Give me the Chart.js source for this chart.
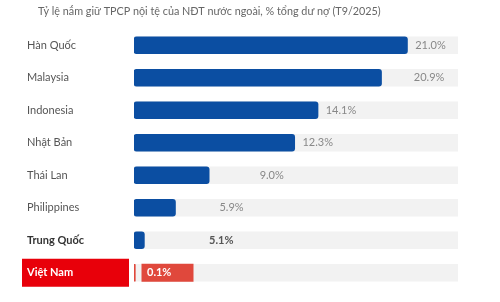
<!DOCTYPE html>
<html lang="vi">
<head>
  <meta charset="UTF-8">
  <title>Tỷ lệ nắm giữ TPCP nội tệ của NĐT nước ngoài</title>
  <script src="https://cdn.jsdelivr.net/npm/chart.js"></script>
  <style>
    body { margin: 0; background: #fff; }
    #wrap { width: 500px; height: 302px; position: relative; }
  </style>
</head>
<body>
  <div id="wrap"><canvas id="chart"></canvas></div>
  <script>
    const title = 'Tỷ lệ nắm giữ TPCP nội tệ của NĐT nước ngoài, % tổng dư nợ (T9/2025)';
    const categories = ['Hàn Quốc', 'Malaysia', 'Indonesia', 'Nhật Bản', 'Thái Lan', 'Philippines', 'Trung Quốc', 'Việt Nam'];
    // bar lengths as drawn in the picture (axis 0..25)
    const barValues = [21.1, 19.1, 14.2, 12.4, 5.8, 3.2, 0.8, 0.1];
    // printed labels, placed at their own value
    const labelValues = [21.0, 20.9, 14.1, 12.3, 9.0, 5.9, 5.1, 0.1];
    const axisMax = 25;
    const trackValues = categories.map(() => axisMax);

    const font = 'Lato, "Noto Sans", sans-serif';

    const decor = {
      id: 'decor',
      afterDatasetsDraw(chart) {
        const { ctx, scales } = chart;
        const x = scales.x, y = scales.y;
        ctx.save();
        ctx.textBaseline = 'middle';

        ctx.font = '10.8px ' + font;
        ctx.fillStyle = '#666';
        ctx.textAlign = 'left';
        ctx.fillText(title, 38, 12);

        categories.forEach((c, i) => {
          const cy = y.getPixelForValue(i);
          const last = i === categories.length - 1;
          const bold = c === 'Trung Quốc';
          if (last) {
            ctx.fillStyle = '#e8000a';
            ctx.fillRect(22, cy - 14, 107, 28);
            const lx = x.getPixelForValue(0) + 8;
            ctx.fillStyle = '#e0483c';
            ctx.fillRect(lx - 0.5, cy - 9, 52, 18);
            ctx.font = 'bold 11px ' + font;
            ctx.fillStyle = '#fff';
            ctx.fillText(c, 27, cy);
            ctx.fillText(labelValues[i].toFixed(1) + '%', lx + 5, cy);
            return;
          }
          ctx.font = (bold ? 'bold ' : '') + '11px ' + font;
          ctx.fillStyle = bold ? '#333' : '#555';
          ctx.fillText(c, 27, cy);
          ctx.fillStyle = bold ? '#555' : '#888';
          ctx.fillText(labelValues[i].toFixed(1) + '%', x.getPixelForValue(labelValues[i]) + 9, cy);
        });
        ctx.restore();
      }
    };

    new Chart(document.getElementById('chart'), {
      type: 'bar',
      data: {
        labels: categories,
        datasets: [
          {
            data: barValues,
            backgroundColor: categories.map((c, i) => i === categories.length - 1 ? '#e0483c' : '#0b4ea2'),
            borderRadius: 3,
            borderSkipped: false,
            barThickness: 17,
            grouped: false,
            order: 0
          },
          {
            data: trackValues,
            backgroundColor: '#f2f2f2',
            barThickness: 17,
            grouped: false,
            order: 1
          }
        ]
      },
      options: {
        indexAxis: 'y',
        responsive: true,
        maintainAspectRatio: false,
        animation: false,
        layout: { padding: { top: 29, bottom: 13, left: 134, right: 42 } },
        scales: {
          x: { min: 0, max: axisMax, display: false },
          y: { display: false }
        },
        plugins: {
          legend: { display: false },
          tooltip: { enabled: false }
        }
      },
      plugins: [decor]
    });
  </script>
</body>
</html>
